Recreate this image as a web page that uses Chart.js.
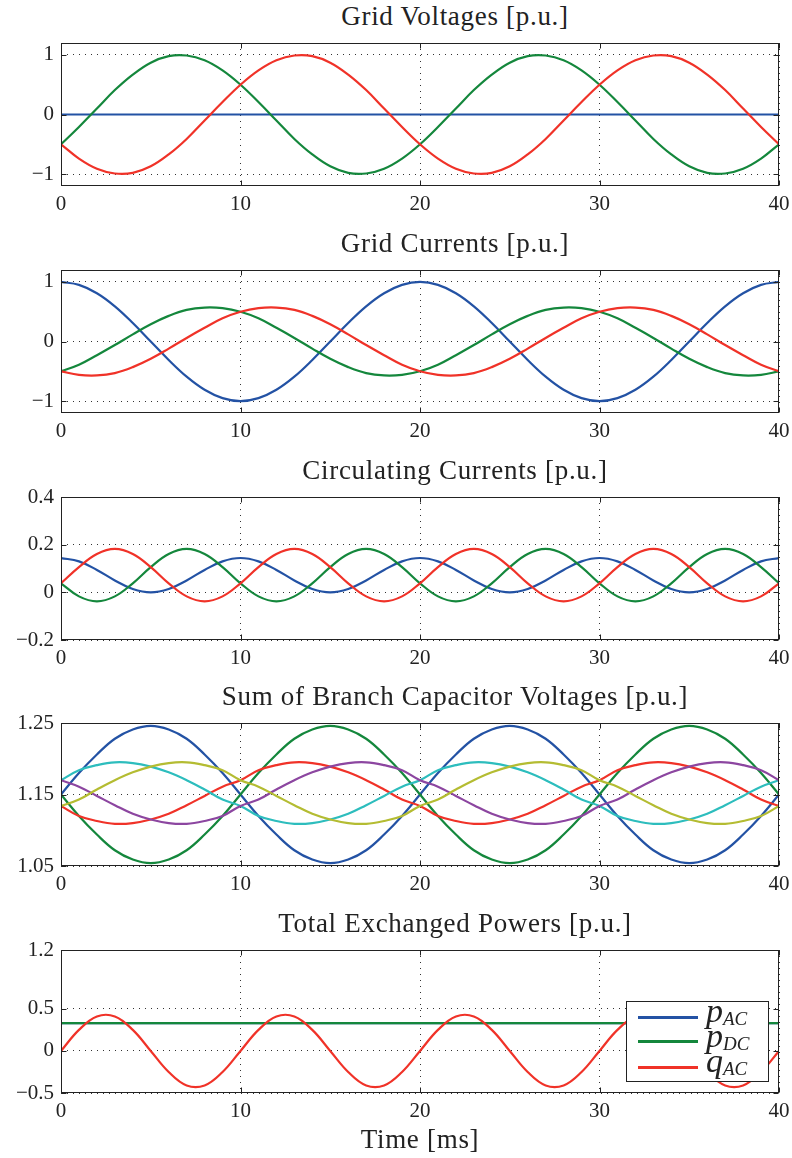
<!DOCTYPE html>
<html>
<head>
<meta charset="utf-8">
<script src="https://cdn.jsdelivr.net/npm/chart.js"></script>
<style>
  body { margin: 0; background: #fff; width: 792px; height: 1158px; position: relative; overflow: hidden; font-family: 'Liberation Serif', serif; color: #222; }
  canvas { position: absolute; left: 0; }
  .title { position: absolute; left: 455px; transform: translateX(-50%); font-size: 27px; line-height: 27px; letter-spacing: 0.7px; white-space: nowrap; }
  #xlabel { position: absolute; left: 420px; top: 1126px; transform: translateX(-50%); font-size: 27px; line-height: 27px; letter-spacing: 0.7px; white-space: nowrap; }
  #legend { position: absolute; left: 626px; top: 1001px; width: 141px; height: 79px; border: 1px solid #222; background: #fff; }
  .lg-line { position: absolute; left: 11px; width: 60px; height: 3px; }
  .lg-text { position: absolute; left: 79px; font-size: 34px; line-height: 34px; font-style: italic; white-space: nowrap; }
  .lg-text span { font-size: 19px; position: relative; top: 3px; }
</style>
</head>
<body>
<div class="title" style="top:3px">Grid Voltages [p.u.]</div>
<canvas id="c1" width="792" height="200" style="top:33px"></canvas>
<div class="title" style="top:230px">Grid Currents [p.u.]</div>
<canvas id="c2" width="792" height="200" style="top:260px"></canvas>
<div class="title" style="top:457px">Circulating Currents [p.u.]</div>
<canvas id="c3" width="792" height="200" style="top:487px"></canvas>
<div class="title" style="top:683px">Sum of Branch Capacitor Voltages [p.u.]</div>
<canvas id="c4" width="792" height="200" style="top:713px"></canvas>
<div class="title" style="top:910px">Total Exchanged Powers [p.u.]</div>
<canvas id="c5" width="792" height="200" style="top:940px"></canvas>
<div id="xlabel">Time [ms]</div>
<div id="legend">
  <div class="lg-line" style="top:14px;background:#2352a4"></div>
  <div class="lg-text" style="top:-8px">p<span>AC</span></div>
  <div class="lg-line" style="top:38px;background:#14873c"></div>
  <div class="lg-text" style="top:17px">p<span>DC</span></div>
  <div class="lg-line" style="top:64px;background:#f03228"></div>
  <div class="lg-text" style="top:42px">q<span>AC</span></div>
</div>
<script>
// time axis [ms], one sample per ms
const time = [0,1,2,3,4,5,6,7,8,9,10,11,12,13,14,15,16,17,18,19,20,21,22,23,24,25,26,27,28,29,30,31,32,33,34,35,36,37,38,39,40];
const xTicks = [0, 10, 20, 30, 40];

// Grid voltages
const voltA = [0,0,0,0,0,0,0,0,0,0,0,0,0,0,0,0,0,0,0,0,0,0,0,0,0,0,0,0,0,0,0,0,0,0,0,0,0,0,0,0,0];
const voltB = [-0.5,-0.21,0.1,0.41,0.67,0.87,0.98,0.99,0.91,0.74,0.5,0.21,-0.1,-0.41,-0.67,-0.87,-0.98,-0.99,-0.91,-0.74,-0.5,-0.21,0.1,0.41,0.67,0.87,0.98,0.99,0.91,0.74,0.5,0.21,-0.1,-0.41,-0.67,-0.87,-0.98,-0.99,-0.91,-0.74,-0.5];
const voltC = [-0.5,-0.74,-0.91,-0.99,-0.98,-0.87,-0.67,-0.41,-0.1,0.21,0.5,0.74,0.91,0.99,0.98,0.87,0.67,0.41,0.1,-0.21,-0.5,-0.74,-0.91,-0.99,-0.98,-0.87,-0.67,-0.41,-0.1,0.21,0.5,0.74,0.91,0.99,0.98,0.87,0.67,0.41,0.1,-0.21,-0.5];
const voltTicks = [-1, 0, 1];

// Grid currents
const currA = [1,0.95,0.81,0.59,0.31,0,-0.31,-0.59,-0.81,-0.95,-1,-0.95,-0.81,-0.59,-0.31,0,0.31,0.59,0.81,0.95,1,0.95,0.81,0.59,0.31,0,-0.31,-0.59,-0.81,-0.95,-1,-0.95,-0.81,-0.59,-0.31,0,0.31,0.59,0.81,0.95,1];
const currB = [-0.5,-0.39,-0.23,-0.06,0.12,0.29,0.43,0.53,0.57,0.56,0.5,0.39,0.23,0.06,-0.12,-0.29,-0.43,-0.53,-0.57,-0.56,-0.5,-0.39,-0.23,-0.06,0.12,0.29,0.43,0.53,0.57,0.56,0.5,0.39,0.23,0.06,-0.12,-0.29,-0.43,-0.53,-0.57,-0.56,-0.5];
const currC = [-0.5,-0.56,-0.57,-0.53,-0.43,-0.29,-0.12,0.06,0.23,0.39,0.5,0.56,0.57,0.53,0.43,0.29,0.12,-0.06,-0.23,-0.39,-0.5,-0.56,-0.57,-0.53,-0.43,-0.29,-0.12,0.06,0.23,0.39,0.5,0.56,0.57,0.53,0.43,0.29,0.12,-0.06,-0.23,-0.39,-0.5];
const currTicks = [-1, 0, 1];

// Circulating currents
const circA = [0.144,0.13,0.094,0.05,0.014,0,0.014,0.05,0.094,0.13,0.144,0.13,0.094,0.05,0.014,0,0.014,0.05,0.094,0.13,0.144,0.13,0.094,0.05,0.014,0,0.014,0.05,0.094,0.13,0.144,0.13,0.094,0.05,0.014,0,0.014,0.05,0.094,0.13,0.144];
const circB = [0.038,-0.017,-0.038,-0.017,0.038,0.106,0.161,0.182,0.161,0.106,0.038,-0.017,-0.038,-0.017,0.038,0.106,0.161,0.182,0.161,0.106,0.038,-0.017,-0.038,-0.017,0.038,0.106,0.161,0.182,0.161,0.106,0.038,-0.017,-0.038,-0.017,0.038,0.106,0.161,0.182,0.161,0.106,0.038];
const circC = [0.038,0.106,0.161,0.182,0.161,0.106,0.038,-0.017,-0.038,-0.017,0.038,0.106,0.161,0.182,0.161,0.106,0.038,-0.017,-0.038,-0.017,0.038,0.106,0.161,0.182,0.161,0.106,0.038,-0.017,-0.038,-0.017,0.038,0.106,0.161,0.182,0.161,0.106,0.038,-0.017,-0.038,-0.017,0.038];
const circTicks = [-0.2, 0, 0.2, 0.4];

// Sum of branch capacitor voltages
const capBlue = [1.15,1.18,1.206,1.228,1.241,1.246,1.241,1.228,1.206,1.18,1.15,1.12,1.094,1.072,1.059,1.054,1.059,1.072,1.094,1.12,1.15,1.18,1.206,1.228,1.241,1.246,1.241,1.228,1.206,1.18,1.15,1.12,1.094,1.072,1.059,1.054,1.059,1.072,1.094,1.12,1.15];
const capGreen = [1.15,1.12,1.094,1.072,1.059,1.054,1.059,1.072,1.094,1.12,1.15,1.18,1.206,1.228,1.241,1.246,1.241,1.228,1.206,1.18,1.15,1.12,1.094,1.072,1.059,1.054,1.059,1.072,1.094,1.12,1.15,1.18,1.206,1.228,1.241,1.246,1.241,1.228,1.206,1.18,1.15];
const capRed = [1.134,1.12,1.113,1.109,1.11,1.115,1.123,1.135,1.148,1.161,1.17,1.184,1.191,1.195,1.194,1.189,1.181,1.17,1.157,1.143,1.134,1.12,1.113,1.109,1.11,1.115,1.123,1.135,1.148,1.161,1.17,1.184,1.191,1.195,1.194,1.189,1.181,1.17,1.157,1.143,1.134];
const capCyan = [1.17,1.184,1.191,1.195,1.194,1.189,1.181,1.17,1.157,1.143,1.134,1.12,1.113,1.109,1.11,1.115,1.123,1.135,1.148,1.161,1.17,1.184,1.191,1.195,1.194,1.189,1.181,1.17,1.157,1.143,1.134,1.12,1.113,1.109,1.11,1.115,1.123,1.135,1.148,1.161,1.17];
const capPurple = [1.17,1.161,1.148,1.135,1.123,1.115,1.11,1.109,1.113,1.12,1.134,1.143,1.157,1.17,1.181,1.189,1.194,1.195,1.191,1.184,1.17,1.161,1.148,1.135,1.123,1.115,1.11,1.109,1.113,1.12,1.134,1.143,1.157,1.17,1.181,1.189,1.194,1.195,1.191,1.184,1.17];
const capOlive = [1.134,1.143,1.157,1.17,1.181,1.189,1.194,1.195,1.191,1.184,1.17,1.161,1.148,1.135,1.123,1.115,1.11,1.109,1.113,1.12,1.134,1.143,1.157,1.17,1.181,1.189,1.194,1.195,1.191,1.184,1.17,1.161,1.148,1.135,1.123,1.115,1.11,1.109,1.113,1.12,1.134];
const capTicks = [1.05, 1.15, 1.25];

// Total exchanged powers
const pAC = [0.33,0.33,0.33,0.33,0.33,0.33,0.33,0.33,0.33,0.33,0.33,0.33,0.33,0.33,0.33,0.33,0.33,0.33,0.33,0.33,0.33,0.33,0.33,0.33,0.33,0.33,0.33,0.33,0.33,0.33,0.33,0.33,0.33,0.33,0.33,0.33,0.33,0.33,0.33,0.33,0.33];
const pDC = [0.33,0.33,0.33,0.33,0.33,0.33,0.33,0.33,0.33,0.33,0.33,0.33,0.33,0.33,0.33,0.33,0.33,0.33,0.33,0.33,0.33,0.33,0.33,0.33,0.33,0.33,0.33,0.33,0.33,0.33,0.33,0.33,0.33,0.33,0.33,0.33,0.33,0.33,0.33,0.33,0.33];
const qAC = [0,0.25,0.41,0.41,0.25,0,-0.25,-0.41,-0.41,-0.25,0,0.25,0.41,0.41,0.25,0,-0.25,-0.41,-0.41,-0.25,0,0.25,0.41,0.41,0.25,0,-0.25,-0.41,-0.41,-0.25,0,0.25,0.41,0.41,0.25,0,-0.25,-0.41,-0.41,-0.25,0];
const powTicks = [-0.5, 0, 0.5, 1.2];

const blue = '#2352a4', green = '#14873c', red = '#f03228';
const cyan = '#2dbdbd', purple = '#8c46a0', olive = '#b4bc32';

const tickFont = { family: 'Liberation Serif', size: 21 };
const tickText = v => String(v).replace('-', '\u2212');

// box round the axes with inward tick marks
const frame = {
  id: 'frame',
  afterDraw(chart) {
    const { ctx, chartArea: a, scales: { x, y } } = chart;
    const l = Math.round(a.left) + 0.5, r = Math.round(a.right) - 0.5;
    const t = Math.round(a.top) + 0.5, b = Math.round(a.bottom) - 0.5;
    ctx.save();
    ctx.strokeStyle = '#222';
    ctx.lineWidth = 1;
    ctx.strokeRect(l, t, r - l, b - t);
    ctx.beginPath();
    x.ticks.forEach(tk => {
      const px = Math.round(x.getPixelForValue(tk.value)) + 0.5;
      ctx.moveTo(px, b); ctx.lineTo(px, b - 5);
      ctx.moveTo(px, t); ctx.lineTo(px, t + 5);
    });
    y.ticks.forEach(tk => {
      const py = Math.round(y.getPixelForValue(tk.value)) + 0.5;
      ctx.moveTo(l, py); ctx.lineTo(l + 5, py);
      ctx.moveTo(r, py); ctx.lineTo(r - 5, py);
    });
    ctx.stroke();
    ctx.restore();
  }
};

function makeChart(id, sets, yMin, yMax, yTicks) {
  new Chart(document.getElementById(id), {
    type: 'line',
    data: {
      datasets: sets.map((s, i) => ({
        data: s.vals.map((v, k) => ({ x: time[k], y: v })),
        borderColor: s.color,
        borderWidth: 2.2,
        pointRadius: 0,
        tension: 0.4,
        fill: false,
        order: sets.length - i
      }))
    },
    options: {
      responsive: false,
      animation: false,
      layout: { padding: { top: 10, right: 13, left: 0, bottom: 0 } },
      plugins: { legend: { display: false }, tooltip: { enabled: false } },
      scales: {
        x: {
          type: 'linear', min: 0, max: 40,
          afterBuildTicks: s => { s.ticks = xTicks.map(v => ({ value: v })); },
          afterFit: s => { s.height = 47; s.paddingLeft = 0; s.paddingRight = 0; },
          grid: { color: '#333', lineWidth: 1, drawTicks: false },
          border: { display: false, dash: [1, 5] },
          ticks: { color: '#222', font: tickFont, padding: 6, maxRotation: 0, autoSkip: false, callback: v => tickText(v) }
        },
        y: {
          min: yMin, max: yMax,
          afterBuildTicks: s => { s.ticks = yTicks.map(v => ({ value: v })); },
          afterFit: s => { s.width = 61; s.paddingTop = 0; s.paddingBottom = 0; },
          grid: { color: '#333', lineWidth: 1, drawTicks: false },
          border: { display: false, dash: [1, 5] },
          ticks: { color: '#222', font: tickFont, padding: 7, autoSkip: false, callback: v => tickText(v) }
        }
      }
    },
    plugins: [frame]
  });
}

makeChart('c1', [
  { vals: voltA, color: blue },
  { vals: voltB, color: green },
  { vals: voltC, color: red }
], -1.2, 1.2, voltTicks);

makeChart('c2', [
  { vals: currA, color: blue },
  { vals: currB, color: green },
  { vals: currC, color: red }
], -1.2, 1.2, currTicks);

makeChart('c3', [
  { vals: circA, color: blue },
  { vals: circB, color: green },
  { vals: circC, color: red }
], -0.2, 0.4, circTicks);

makeChart('c4', [
  { vals: capBlue, color: blue },
  { vals: capGreen, color: green },
  { vals: capRed, color: red },
  { vals: capCyan, color: cyan },
  { vals: capPurple, color: purple },
  { vals: capOlive, color: olive }
], 1.05, 1.25, capTicks);

makeChart('c5', [
  { vals: pAC, color: blue },
  { vals: pDC, color: green },
  { vals: qAC, color: red }
], -0.5, 1.2, powTicks);
</script>
</body>
</html>
